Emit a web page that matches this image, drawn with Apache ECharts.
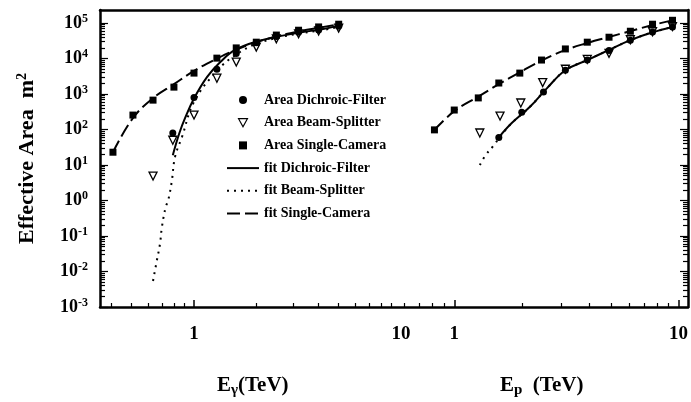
<!DOCTYPE html>
<html>
<head>
<meta charset="utf-8">
<script src="https://cdn.jsdelivr.net/npm/echarts@6/dist/echarts.min.js"></script>
<style>
  html, body { margin: 0; padding: 0; background: #fff; }
  #chart { width: 691px; height: 402px; }
</style>
</head>
<body>
<div id="chart"></div>
<script>
// gamma panel (E_gamma, TeV) - data points
var dichroicGammaE = [0.79, 1.0, 1.29, 1.6, 2.0, 2.5, 3.2, 4.0, 5.0];
var dichroicGammaA = [80, 800, 5000, 14000, 28000, 42000, 55000, 64000, 82000];
var beamGammaE = [0.634, 0.79, 1.0, 1.29, 1.6, 2.0, 2.5, 3.2, 4.0, 5.0];
var beamGammaA = [4.9, 50, 256, 2800, 8000, 21000, 36000, 50000, 60000, 72000];
var singleGammaE = [0.406, 0.507, 0.634, 0.8, 1.0, 1.29, 1.6, 2.0, 2.5, 3.2, 4.0, 5.0];
var singleGammaA = [23, 256, 675, 1570, 3900, 10300, 20000, 29000, 46000, 63000, 78000, 93000];

// gamma panel - fit curves
var fitDichroicGammaE = [0.79, 0.85, 0.905, 1.0, 1.155, 1.34, 1.58, 2.04, 2.6, 3.3, 4.2, 5.0];
var fitDichroicGammaA = [19, 80, 210, 750, 3000, 8000, 17500, 31000, 43000, 55000, 68000, 85000];
var fitBeamGammaE = [0.634, 0.66, 0.685, 0.70, 0.73, 0.75, 0.78, 0.81, 0.875, 1.0, 1.29, 1.6, 2.0, 2.6, 3.3, 4.2, 5.0];
var fitBeamGammaA = [0.0054, 0.019, 0.06, 0.18, 0.66, 1.0, 3.3, 17, 62, 600, 4500, 13000, 26000, 40000, 52000, 64000, 78000];
var fitSingleGammaE = [0.406, 0.507, 0.64, 0.8, 1.0, 1.29, 1.6, 2.0, 2.5, 3.2, 4.0, 5.0];
var fitSingleGammaA = [23, 210, 800, 1900, 4500, 10000, 18000, 29000, 42000, 58000, 74000, 92000];

// proton panel (E_p, TeV) - data points
var dichroicPE = [1.58, 2.0, 2.5, 3.13, 3.92, 4.9, 6.1, 7.66, 9.4];
var dichroicPA = [60, 310, 1150, 4700, 9100, 17000, 33000, 56000, 78000];
var beamPE = [1.30, 1.6, 1.98, 2.48, 3.13, 3.92, 4.9, 6.1, 7.66, 9.4];
var beamPA = [80, 240, 560, 2100, 5000, 9500, 14000, 34000, 57000, 80000];
var singlePE = [0.816, 1.0, 1.28, 1.58, 1.96, 2.45, 3.13, 3.92, 4.9, 6.1, 7.66, 9.4];
var singlePA = [98, 355, 780, 2050, 3900, 9100, 18700, 29000, 40000, 59000, 93000, 120000];

// proton panel - fit curves
var fitDichroicPE = [1.58, 1.8, 2.17, 2.6, 3.13, 3.92, 4.9, 6.1, 7.66, 9.4];
var fitDichroicPA = [60, 150, 430, 1500, 4700, 9100, 17500, 33000, 55000, 78000];
var fitBeamPE = [1.30, 1.38, 1.49, 1.6, 1.8, 2.17, 2.6, 3.13, 3.92, 4.9, 6.1, 7.66, 9.4];
var fitBeamPA = [10, 19, 34, 62, 150, 430, 1500, 4700, 9100, 17500, 33000, 55000, 78000];
var fitSinglePE = [0.816, 1.0, 1.28, 1.58, 1.96, 2.45, 3.1, 3.88, 4.85, 6.0, 7.66, 9.4];
var fitSinglePA = [98, 330, 850, 1900, 4100, 8800, 17000, 27000, 40000, 58000, 88000, 120000];

// ticks
var yMajorTicks = [1e-3, 1e-2, 1e-1, 1, 10, 100, 1e3, 1e4, 1e5];
var minorSteps = [2, 3, 4, 5, 6, 7, 8, 9];
var gammaMajorTicks = [1];
var gammaLabels = [1, 10];
var gammaMinorTicks = [0.4, 0.5, 0.6, 0.7, 0.8, 0.9, 2, 3, 4, 5, 6, 7, 8, 9];
var protonMajorTicks = [1, 10];
var protonLabels = [1, 10];
var protonMinorTicks = [0.6, 0.7, 0.8, 0.9, 2, 3, 4, 5, 6, 7, 8, 9];

var yMinorTicks = [];
yMajorTicks.slice(0, -1).forEach(function (d) {
  minorSteps.forEach(function (k) { yMinorTicks.push(k * d); });
});

function pairs(xs, ys) {
  return xs.map(function (x, i) { return [x, ys[i]]; });
}

var FONT = '"Liberation Serif", "DejaVu Serif", serif';
var black = '#000';

var names = ['Area Dichroic-Filter', 'Area Beam-Splitter', 'Area Single-Camera',
             'fit Dichroic-Filter', 'fit Beam-Splitter', 'fit Single-Camera'];

var gridBox = { left: 100, right: 3, top: 10, bottom: 95 };

function xMajor(grid, min, max, ticks, labels) {
  return {
    type: 'log', gridIndex: grid, min: min, max: max, position: 'bottom',
    axisLine: { show: grid === 0, lineStyle: { color: black, width: 2.5 } },
    axisTick: { show: true, inside: true, length: 7, customValues: ticks, lineStyle: { color: black, width: 1.5 } },
    axisLabel: { show: true, customValues: labels, margin: 18, color: black,
      fontFamily: FONT, fontWeight: 'bold', fontSize: 19 },
    splitLine: { show: false }
  };
}
function xMinor(grid, min, max, ticks) {
  return {
    type: 'log', gridIndex: grid, min: min, max: max, position: 'bottom',
    axisLine: { show: false },
    axisTick: { show: true, inside: true, length: 4, customValues: ticks, lineStyle: { color: black, width: 1.2 } },
    axisLabel: { show: false },
    splitLine: { show: false }
  };
}
function yAxisDef(pos, ticks, len, showLine, withLabel) {
  return {
    type: 'log', gridIndex: 0, min: 0.001, max: 234000, position: pos,
    axisLine: { show: showLine, lineStyle: { color: black, width: 2.5 } },
    axisTick: { show: true, inside: true, length: len, customValues: ticks, lineStyle: { color: black, width: 1.2 } },
    axisLabel: withLabel ? {
      show: true, customValues: yMajorTicks, margin: 12, color: black,
      fontFamily: FONT, fontWeight: 'bold', fontSize: 18,
      formatter: function (v) { return '10{s|' + Math.round(Math.log10(v)) + '}'; },
      rich: { s: { fontFamily: FONT, fontWeight: 'bold', fontSize: 12, padding: [0, 0, 9, 0] } }
    } : { show: false },
    splitLine: { show: false }
  };
}

var GMIN = 0.3515, GMAX = 243.5;   // 1 TeV at x=194, 207 px per decade
var PMIN = 0.02632, PMAX = 10.52;  // 1 TeV at x=457, 226 px per decade

function scatter(name, xi, yi, data, symbol, size, filled) {
  return {
    name: name, type: 'scatter', xAxisIndex: xi, yAxisIndex: yi, data: data,
    symbol: symbol, symbolSize: size, symbolRotate: symbol === 'triangle' ? 180 : 0,
    itemStyle: filled ? { color: black, opacity: 1 } : { color: '#fff', borderColor: black, borderWidth: 1.3, opacity: 1 },
    z: 5
  };
}
function fit(name, xi, yi, data, type) {
  return {
    name: name, type: 'line', xAxisIndex: xi, yAxisIndex: yi, data: data,
    symbol: 'none', smooth: 0.4,
    itemStyle: { color: black },
    lineStyle: { color: black, width: 2, type: type, cap: 'butt' },
    z: 3
  };
}

var hidden = { color: 'rgba(0,0,0,0)', opacity: 0, borderWidth: 0 };
var legendData = [
  { name: names[0], icon: 'circle', itemStyle: { color: black, opacity: 1 } },
  { name: names[1], icon: 'path://M0,0 L10,0 L5,9 Z', itemStyle: { color: '#fff', borderColor: black, borderWidth: 1.2, opacity: 1 } },
  { name: names[2], icon: 'path://M0,0 L10,0 L10,10 L0,10 Z', itemStyle: { color: black, opacity: 1 } },
  { name: names[3], itemStyle: hidden },
  { name: names[4], itemStyle: hidden },
  { name: names[5], itemStyle: hidden }
];

var chart = echarts.init(document.getElementById('chart'), null, { renderer: 'canvas' });
chart.setOption({
  animation: false,
  backgroundColor: '#fff',
  textStyle: { fontFamily: FONT },
  grid: [gridBox, gridBox],
  xAxis: [
    xMajor(0, GMIN, GMAX, gammaMajorTicks, gammaLabels),
    xMinor(0, GMIN, GMAX, gammaMinorTicks),
    { type: 'log', gridIndex: 0, min: GMIN, max: GMAX, position: 'top',
      axisLine: { lineStyle: { color: black, width: 2.5 } }, axisTick: { show: false },
      axisLabel: { show: false }, splitLine: { show: false } },
    xMajor(1, PMIN, PMAX, protonMajorTicks, protonLabels),
    xMinor(1, PMIN, PMAX, protonMinorTicks)
  ],
  yAxis: [
    Object.assign(yAxisDef('left', yMajorTicks, 8, true, true), {
      name: 'Effective Area  m{s|2}', nameLocation: 'middle', nameGap: 60, nameRotate: 90,
      nameTextStyle: { color: black, fontFamily: FONT, fontWeight: 'bold', fontSize: 22,
        rich: { s: { fontFamily: FONT, fontWeight: 'bold', fontSize: 14, padding: [0, 0, 11, 0] } } }
    }),
    yAxisDef('left', yMinorTicks, 5, false, false),
    yAxisDef('right', yMajorTicks, 8, true, false),
    yAxisDef('right', yMinorTicks, 5, false, false),
    { type: 'log', gridIndex: 1, min: 0.001, max: 234000, show: false }
  ],
  legend: {
    data: legendData, orient: 'vertical', left: 221, top: 87,
    itemWidth: 32, itemHeight: 8, itemGap: 6.7, symbolKeepAspect: true,
    textStyle: { color: black, fontFamily: FONT, fontWeight: 'bold', fontSize: 14, lineHeight: 16 }
  },
  graphic: [
    { type: 'text', left: 217, top: 375, style: {
      text: 'E{sub|γ}(TeV)', fill: black, font: 'bold 21px ' + FONT,
      rich: { sub: { fontSize: 15, fontWeight: 'bold', fontFamily: FONT, padding: [9, 0, 0, 0] } } } },
    { type: 'text', left: 500, top: 375, style: {
      text: 'E{sub|p}  (TeV)', fill: black, font: 'bold 21px ' + FONT,
      rich: { sub: { fontSize: 15, fontWeight: 'bold', fontFamily: FONT, padding: [9, 0, 0, 0] } } } }
  ],
  series: [
    fit(names[3], 0, 0, pairs(fitDichroicGammaE, fitDichroicGammaA), 'solid'),
    fit(names[4], 0, 0, pairs(fitBeamGammaE, fitBeamGammaA), [2, 5]),
    fit(names[5], 0, 0, pairs(fitSingleGammaE, fitSingleGammaA), [13, 5]),
    fit(names[3], 3, 4, pairs(fitDichroicPE, fitDichroicPA), 'solid'),
    fit(names[4], 3, 4, pairs(fitBeamPE, fitBeamPA), [2, 5]),
    fit(names[5], 3, 4, pairs(fitSinglePE, fitSinglePA), [13, 5]),
    scatter(names[1], 0, 0, pairs(beamGammaE, beamGammaA), 'triangle', 8, false),
    scatter(names[0], 0, 0, pairs(dichroicGammaE, dichroicGammaA), 'circle', 7, true),
    scatter(names[2], 0, 0, pairs(singleGammaE, singleGammaA), 'rect', 7, true),
    scatter(names[1], 3, 4, pairs(beamPE, beamPA), 'triangle', 8, false),
    scatter(names[0], 3, 4, pairs(dichroicPE, dichroicPA), 'circle', 7, true),
    scatter(names[2], 3, 4, pairs(singlePE, singlePA), 'rect', 7, true)
  ]
});
</script>
</body>
</html>
